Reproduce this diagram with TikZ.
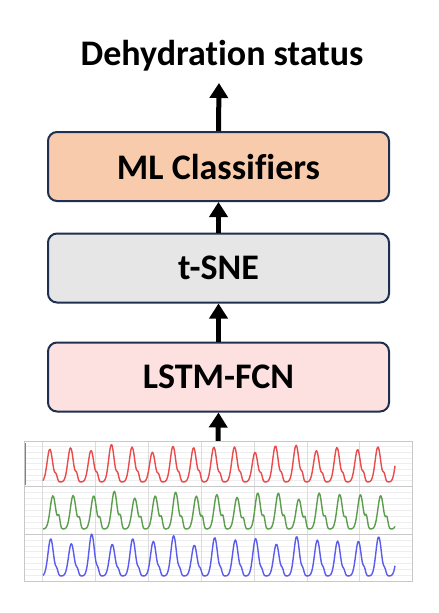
\documentclass[tikz,border=0pt]{standalone}
\usepackage{fontspec}
\setmainfont{Carlito}[Ligatures={NoCommon,NoRare,NoContextual}]
\usetikzlibrary{arrows.meta}
\definecolor{navy}{HTML}{1F2F4F}
\definecolor{peach}{HTML}{F8CBAD}
\definecolor{lgray}{HTML}{E7E6E6}
\definecolor{pinkish}{HTML}{FDE1E1}
\definecolor{sigred}{HTML}{EA4B4B}
\definecolor{siggreen}{HTML}{5C9E4E}
\definecolor{sigblue}{HTML}{5B5BEE}
\definecolor{gridv}{HTML}{DCDCDC}
\definecolor{gridh}{HTML}{EEEEEE}
\definecolor{panelb}{HTML}{C8C8C8}
\tikzset{
  declare function={pq(\x,\o)=mod((\x-\o)/20.5,1);
                    pg(\q,\s)=exp(-((\q-0.5)/0.19)^2)+\s*exp(-((\q-0.8)/0.08)^2);},
  box/.style={draw=navy, line width=2pt, rounded corners=9pt,
              minimum width=341pt, minimum height=69pt, inner sep=0pt,
              font=\fontsize{36}{42}\selectfont\bfseries},
  upar/.style={line width=5pt, -{Triangle[width=18pt,length=15pt]}},
  wave/.style={line width=1.4pt, line join=round, smooth},
  panel/.style={draw=panelb, line width=0.8pt}
}
\begin{document}
\begin{tikzpicture}[x=1pt,y=-1pt]
\useasboundingbox (0,0) rectangle (439,613);
\fill[white] (0,0) rectangle (439,613);

% title
\node[font=\fontsize{36}{42}\selectfont\bfseries, anchor=base, inner sep=0pt] (title) at (222,65) {Dehydrat\kern0pt ion status};
\coordinate (tip) at (219,83);

% boxes
\node[box, fill=peach] (ml) at (218.5,166.5) {ML Classif\kern0pt iers};
\node[box, fill=lgray] (tsne) at (218.5,268) {t-SNE};
\node[box, fill=pinkish] (lstm) at (218.5,377) {LSTM-FCN};

% signal panels
\node[minimum width=388pt, minimum height=140pt, inner sep=0pt] (sig) at (218,511) {};

\begin{scope}
  \foreach \ya/\yb in {441/486, 486/534, 534/581}{
    \foreach \k in {1,...,7}{
      \draw[gridh, line width=0.5pt] (25,{\ya+\k*(\yb-\ya)/8}) -- (412,{\ya+\k*(\yb-\ya)/8});
    }
    \foreach \xv in {42,95,148,201,254,307,359}{
      \draw[gridv, line width=0.8pt] (\xv,\ya) -- (\xv,\yb);
    }
    \draw[panel] (24,\ya) rectangle (412,\yb);
  }
  \draw[gray, line width=1pt] (25,443) -- (25,485);
\end{scope}

% waves
\draw[wave, sigred] plot[domain=43:395, samples=400, variable=\x]
  ({\x}, {482 - 34*(1+0.08*sin(\x*11)+0.06*sin(\x*4))*pg(pq(\x,39.75),0.2)});
\draw[wave, siggreen] plot[domain=43:395, samples=400, variable=\x]
  ({\x}, {529 - 34*(1+0.07*sin(\x*7)+0.06*sin(\x*13))*pg(pq(\x,42.5),0.3)});
\draw[wave, sigblue] plot[domain=43:395, samples=400, variable=\x]
  ({\x}, {576 - 36*(1+0.1*sin(\x*9)+0.07*sin(\x*5))*pg(pq(\x,40.5),0.15)});

% arrows
\draw[upar] (ml.north) -- (tip);
\draw[upar] (tsne.north) -- (ml.south);
\draw[upar] (lstm.north) -- (tsne.south);
\draw[upar] (sig.north) -- (lstm.south);
\end{tikzpicture}
\end{document}
